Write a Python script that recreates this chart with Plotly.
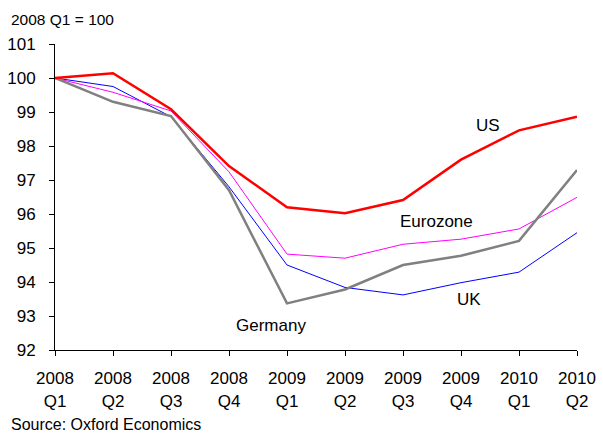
import plotly.graph_objects as go

categories = ["2008<br>Q1", "2008<br>Q2", "2008<br>Q3", "2008<br>Q4", "2009<br>Q1",
              "2009<br>Q2", "2009<br>Q3", "2009<br>Q4", "2010<br>Q1", "2010<br>Q2"]
us = [100.0, 100.14, 99.08, 97.41, 96.20, 96.02, 96.41, 97.60, 98.46, 98.86]
eurozone = [100.0, 99.58, 99.03, 97.24, 94.82, 94.70, 95.11, 95.26, 95.56, 96.49]
uk = [100.0, 99.75, 98.86, 96.80, 94.50, 93.84, 93.62, 93.98, 94.29, 95.45]
germany = [100.0, 99.30, 98.88, 96.70, 93.37, 93.78, 94.50, 94.77, 95.21, 97.29]
y_ticks = [92, 93, 94, 95, 96, 97, 98, 99, 100, 101]

FONT = "Liberation Sans, Arial, sans-serif"
x_idx = list(range(len(categories)))

W, H = 603, 433
ML, MR, MT, MB = 55, 26, 44, 83

fig = go.Figure()
fig.add_trace(go.Scatter(x=x_idx, y=uk, mode="lines", line=dict(color="#0000FF", width=1), name="UK"))
fig.add_trace(go.Scatter(x=x_idx, y=eurozone, mode="lines", line=dict(color="#FF00FF", width=1), name="Eurozone"))
fig.add_trace(go.Scatter(x=x_idx, y=germany, mode="lines", line=dict(color="#808080", width=2.5), name="Germany"))
fig.add_trace(go.Scatter(x=x_idx, y=us, mode="lines", line=dict(color="#FF0000", width=2.5), name="US"))

labels = [("US", 7.47, 98.6), ("Eurozone", 6.58, 95.78), ("UK", 7.14, 93.5), ("Germany", 3.72, 92.71)]
for text, xi, yi in labels:
    fig.add_annotation(x=xi, y=yi, xref="x", yref="y", text=text, showarrow=False,
                       font=dict(family=FONT, size=17, color="black"))

plot_w = W - ML - MR
plot_h = H - MT - MB
def px(xp, yp):
    return (xp - ML) / plot_w, (H - MB - yp) / plot_h

ux, uy = px(9, 19)
fig.add_annotation(x=ux, y=uy, xref="paper", yref="paper", xanchor="left", yanchor="middle",
                   text="2008 Q1 = 100", showarrow=False, font=dict(family=FONT, size=15.5, color="black"))
sx, sy = px(9, 424)
fig.add_annotation(x=sx, y=sy, xref="paper", yref="paper", xanchor="left", yanchor="middle",
                   text="Source: Oxford Economics", showarrow=False, font=dict(family=FONT, size=16, color="black"))

fig.update_layout(
    width=W, height=H,
    margin=dict(l=ML, r=MR, t=MT, b=MB, autoexpand=False),
    paper_bgcolor="white", plot_bgcolor="white",
    showlegend=False,
    font=dict(family=FONT, size=17, color="black"),
    xaxis=dict(range=[0, 9], tickmode="array", tickvals=x_idx, ticktext=categories,
               showgrid=False, zeroline=False, showline=True, linecolor="black", linewidth=1,
               ticks="outside", ticklen=5, tickcolor="black", ticklabelstandoff=8,
               automargin=False),
    yaxis=dict(range=[92, 101], tickmode="array", tickvals=y_ticks,
               showgrid=False, zeroline=False, showline=True, linecolor="black", linewidth=1,
               ticks="outside", ticklen=5, tickcolor="black", ticklabelstandoff=10,
               automargin=False),
)

fig.write_html("out.html", config={"displayModeBar": False},
               post_script="document.body.style.margin='0';document.body.style.overflow='hidden';")
